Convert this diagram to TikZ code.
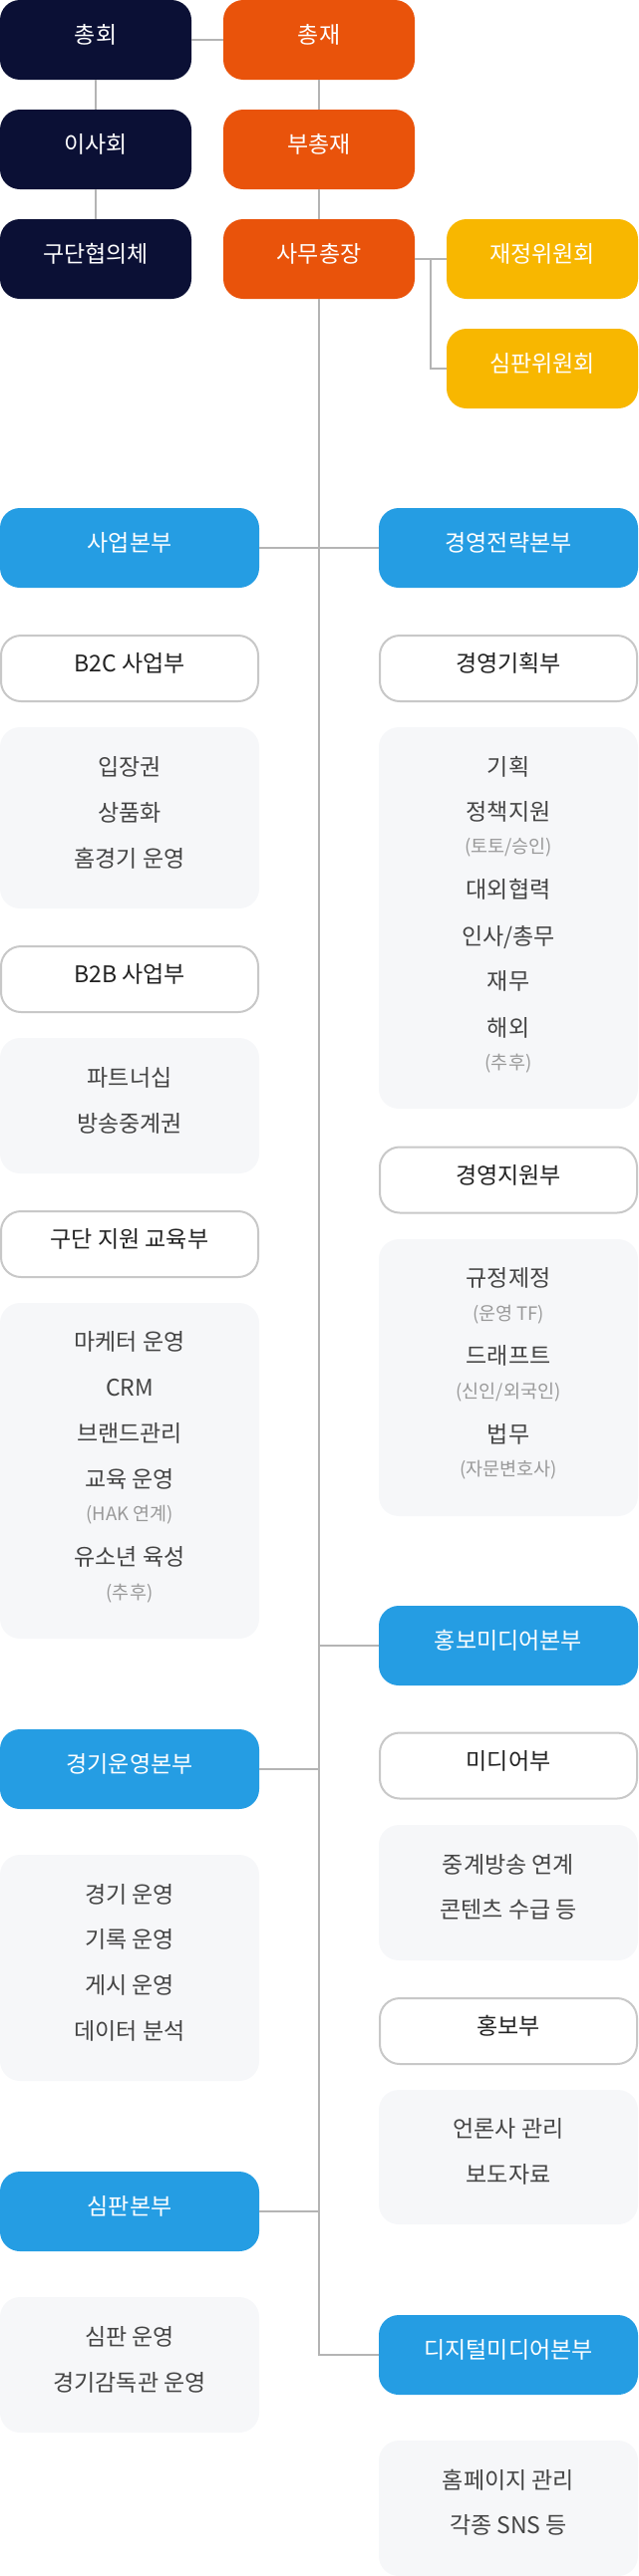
\documentclass[tikz,border=0pt]{standalone}
\usepackage{fontspec}
\setmainfont{Noto Sans CJK KR}
\usepackage{tikz}
\usetikzlibrary{positioning,calc}

\definecolor{navy}{HTML}{0B1035}
\definecolor{orangered}{HTML}{E9530B}
\definecolor{amber}{HTML}{F8B700}
\definecolor{skyblue}{HTML}{259DE3}
\definecolor{panelgray}{HTML}{F6F7F9}
\definecolor{bordergray}{HTML}{C8C8C8}
\definecolor{linegray}{HTML}{B4B4B4}
\definecolor{textdark}{HTML}{222222}
\definecolor{textgray}{HTML}{444444}
\definecolor{notegray}{HTML}{999999}

\newcommand{\mainfont}{\fontsize{23}{27}\selectfont}
\newcommand{\notefont}{\fontsize{18.5}{22}\selectfont}

\tikzset{
  topbox/.style={rounded corners=20pt, inner sep=0pt, minimum width=192pt, minimum height=80pt, text=white, font=\mainfont, text height=0.8em, text depth=0.04em},
  navybox/.style={topbox, fill=navy},
  orangebox/.style={topbox, fill=orangered},
  amberbox/.style={topbox, fill=amber},
  hqbox/.style={topbox, fill=skyblue, minimum width=260pt},
  deptbox/.style={rounded corners=20pt, inner sep=0pt, draw=bordergray, line width=2pt, fill=white, minimum width=258pt, minimum height=66pt, text=textdark, font=\mainfont, text height=0.8em, text depth=0.04em},
  listbox/.style={rounded corners=20pt, inner sep=0pt, fill=panelgray, minimum width=260pt},
  itemtext/.style={inner sep=0pt, text=textgray, font=\mainfont, text height=0.8em, text depth=0.04em},
  notetext/.style={inner sep=0pt, text=notegray, font=\notefont, text height=0.8em, text depth=0.04em},
  link/.style={draw=linegray, line width=2pt}
}

\begin{document}
\begin{tikzpicture}[x=1pt,y=-1pt]

\useasboundingbox (0,0) rectangle (640,2586);

% top level
\node[navybox] (chonghoe) at (96,40) {총회};
\node[navybox] (isahoe) at (96,150) {이사회};
\node[navybox] (gudanhyeop) at (96,260) {구단협의체};

\node[orangebox] (chongjae) at (320,40) {총재};
\node[orangebox] (buchongjae) at (320,150) {부총재};
\node[orangebox] (samu) at (320,260) {사무총장};

\node[amberbox] (jaejeong) at (544,260) {재정위원회};
\node[amberbox] (simpanwi) at (544,370) {심판위원회};

\coordinate (branch) at (432,260);

\draw[link] (chonghoe.east) -- (chongjae.west);
\draw[link] (chonghoe.south) -- (isahoe.north);
\draw[link] (isahoe.south) -- (gudanhyeop.north);
\draw[link] (chongjae.south) -- (buchongjae.north);
\draw[link] (buchongjae.south) -- (samu.north);
\draw[link] (samu.east) -- (jaejeong.west);
\draw[link] (branch) |- (simpanwi.west);

% headquarters
\node[hqbox] (saeop) at (130,550) {사업본부};
\node[hqbox] (jeollyak) at (510,550) {경영전략본부};
\node[hqbox] (hongbo) at (510,1652) {홍보미디어본부};
\node[hqbox] (gyeonggi) at (130,1776) {경기운영본부};
\node[hqbox] (simpan) at (130,2220) {심판본부};
\node[hqbox] (digital) at (510,2364) {디지털미디어본부};

\draw[link] (samu.south) |- (digital.west);
\draw[link] (saeop.east) -- (jeollyak.west);
\draw[link] (hongbo.west) -- (hongbo.west -| samu.south);
\draw[link] (gyeonggi.east) -- (gyeonggi.east -| samu.south);
\draw[link] (simpan.east) -- (simpan.east -| samu.south);

% 사업본부
\node[deptbox] (btoc) at (130,671) {B2C 사업부};
\node[listbox, minimum height=182pt] (btoclist) at (130,821) {};
\node[itemtext] (ipjang) at (130,775) {입장권};
\node[itemtext] (sangpum) at (130,821) {상품화};
\node[itemtext] (homegame) at (130,867) {홈경기 운영};

\node[deptbox] (btob) at (130,983) {B2B 사업부};
\node[listbox, minimum height=136pt] (btoblist) at (130,1110) {};
\node[itemtext] (partner) at (130,1087) {파트너십};
\node[itemtext] (junggye) at (130,1133) {방송중계권};

\node[deptbox] (gudanjiwon) at (130,1249) {구단 지원 교육부};
\node[listbox, minimum height=337pt] (gudanlist) at (130,1476.5) {};
\node[itemtext] (marketer) at (130,1352) {마케터 운영};
\node[itemtext] (crm) at (130,1398) {CRM};
\node[itemtext] (brand) at (130,1444) {브랜드관리};
\node[itemtext] (gyoyuk) at (130,1490) {교육 운영};
\node[notetext] (hak) at (130,1523) {(HAK 연계)};
\node[itemtext] (yusonyeon) at (130,1568) {유소년 육성};
\node[notetext] (chuhua) at (130,1602) {(추후)};

% 경영전략본부
\node[deptbox] (gihoek) at (510,671) {경영기획부};
\node[listbox, minimum height=383pt] (gihoeklist) at (510,921.5) {};
\node[itemtext] (gihoekitem) at (510,775) {기획};
\node[itemtext] (jeongchaek) at (510,820) {정책지원};
\node[notetext] (toto) at (510,853) {(토토/승인)};
\node[itemtext] (daeoe) at (510,898) {대외협력};
\node[itemtext] (insa) at (510,945) {인사/총무};
\node[itemtext] (jaemu) at (510,990) {재무};
\node[itemtext] (haeoe) at (510,1037) {해외};
\node[notetext] (chuhub) at (510,1070) {(추후)};

\node[deptbox] (jiwon) at (510,1184.5) {경영지원부};
\node[listbox, minimum height=278pt] (jiwonlist) at (510,1383) {};
\node[itemtext] (gyujeong) at (510,1288) {규정제정};
\node[notetext] (tf) at (510,1322) {(운영 TF)};
\node[itemtext] (draft) at (510,1366) {드래프트};
\node[notetext] (sinin) at (510,1400) {(신인/외국인)};
\node[itemtext] (beopmu) at (510,1445) {법무};
\node[notetext] (jamun) at (510,1478) {(자문변호사)};

% 홍보미디어본부
\node[deptbox] (media) at (510,1772.5) {미디어부};
\node[listbox, minimum height=136pt] (medialist) at (510,1900) {};
\node[itemtext] (banggsong) at (510,1877) {중계방송 연계};
\node[itemtext] (contents) at (510,1922) {콘텐츠 수급 등};

\node[deptbox] (pr) at (510,2039) {홍보부};
\node[listbox, minimum height=135pt] (prlist) at (510,2165.5) {};
\node[itemtext] (eollon) at (510,2142) {언론사 관리};
\node[itemtext] (bodo) at (510,2188) {보도자료};

% 경기운영본부
\node[listbox, minimum height=227pt] (gyeonggilist) at (130,1975.5) {};
\node[itemtext] (gyeonggiop) at (130,1907) {경기 운영};
\node[itemtext] (girok) at (130,1952) {기록 운영};
\node[itemtext] (gesi) at (130,1998) {게시 운영};
\node[itemtext] (data) at (130,2044) {데이터 분석};

% 심판본부
\node[listbox, minimum height=136pt] (simpanlist) at (130,2374) {};
\node[itemtext] (simpanop) at (130,2351) {심판 운영};
\node[itemtext] (gamdok) at (130,2397) {경기감독관 운영};

% 디지털미디어본부
\node[listbox, minimum height=136pt] (digitallist) at (510,2518) {};
\node[itemtext] (homepage) at (510,2495) {홈페이지 관리};
\node[itemtext] (sns) at (510,2540) {각종 SNS 등};

\end{tikzpicture}
\end{document}
